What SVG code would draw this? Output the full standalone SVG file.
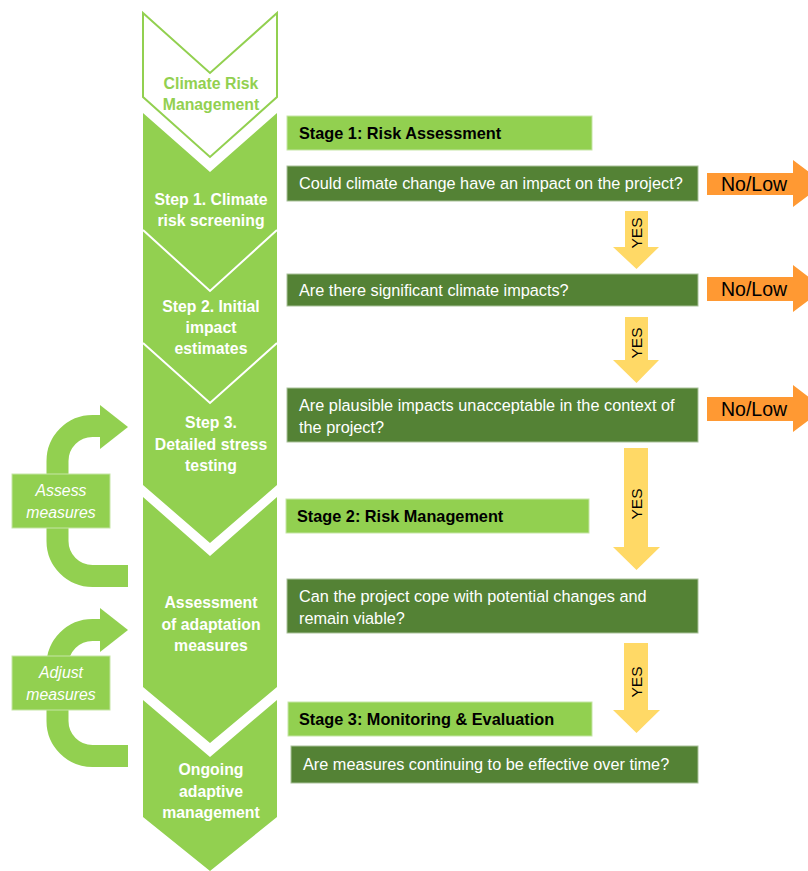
<svg xmlns="http://www.w3.org/2000/svg" width="808" height="871" viewBox="0 0 808 871">
<style>
.chev{fill:#92D050}
.sep{fill:none;stroke:#FFFFFF;stroke-width:2}
.ct{font-family:"Liberation Sans",Arial,sans-serif;font-weight:bold;font-size:15.8px;fill:#FFFFFF;text-anchor:middle}
.stage{fill:#92D050;stroke:#C5E5A5;stroke-width:1}
.q{fill:#548235;stroke:#A9C19A;stroke-width:1}
.st{font-family:"Liberation Sans",Arial,sans-serif;font-weight:bold;font-size:16.3px;fill:#000000}
.qt{font-family:"Liberation Sans",Arial,sans-serif;font-size:16.3px;fill:#FFFFFF}
.no{fill:#FF9933}
.nt{font-family:"Liberation Sans",Arial,sans-serif;font-size:19.5px;fill:#000000}
.yes{fill:#FFD966}
.yt{font-family:"Liberation Sans",Arial,sans-serif;font-size:15.5px;fill:#000000;text-anchor:middle}
.loop{fill:none;stroke:#92D050;stroke-width:22}
.lh{fill:#92D050}
.lb{fill:#92D050;stroke:#C5E5A5;stroke-width:1}
.lt{font-family:"Liberation Sans",Arial,sans-serif;font-style:italic;font-size:15.8px;fill:#FFFFFF;text-anchor:middle}
</style>

<!-- Connectors -->
<g id="connectors">
<!-- No/Low arrows -->
<polygon class="no" points="707,173 793,173 793,160 824,183.5 793,207 793,195 707,195"/>
<text class="nt" x="721" y="191">No/Low</text>
<polygon class="no" points="707,277 793,277 793,265 824,289 793,312 793,301 707,301"/>
<text class="nt" x="721" y="296">No/Low</text>
<polygon class="no" points="707,397 793,397 793,385 824,409 793,432 793,421 707,421"/>
<text class="nt" x="721" y="416">No/Low</text>

<!-- YES arrows -->
<polygon class="yes" points="625,211 648,211 648,247 659,247 636.5,269 613,247 625,247"/>
<text class="yt" transform="translate(642,233) rotate(-90)">YES</text>
<polygon class="yes" points="625,317 648,317 648,360 659,360 636.5,383 613,360 625,360"/>
<text class="yt" transform="translate(642,343) rotate(-90)">YES</text>
<polygon class="yes" points="624,448 648,448 648,547 660,547 636.5,570 613,547 624,547"/>
<text class="yt" transform="translate(642,504) rotate(-90)">YES</text>
<polygon class="yes" points="624,643 648,643 648,710 660,710 636.5,733 613,710 624,710"/>
<text class="yt" transform="translate(642,682) rotate(-90)">YES</text>

<!-- Loop arrows -->
<path class="loop" d="M128 576 L92.5 576 A35 35 0 0 1 57.5 541 L57.5 461 A35 35 0 0 1 92.5 426 L101 426"/>
<polygon class="lh" points="100,405 128,427 100,449"/>
<path class="loop" d="M128 756 L92.5 756 A35 35 0 0 1 57.5 721 L57.5 665 A35 35 0 0 1 92.5 630 L101 630"/>
<polygon class="lh" points="100,608 128,630 100,652"/>
</g>

<!-- Process chevrons -->
<g id="crm">
<polygon points="143,13 210,73 277,13 277,97 210,157 143,97" fill="#FFFFFF" stroke="#92D050" stroke-width="2"/>
<text class="ct" x="211" y="89" style="fill:#92D050">Climate Risk</text>
<text class="ct" x="211" y="110" style="fill:#92D050">Management</text>
</g>
<g id="step1">
<polygon class="chev" points="143,113 210,172 277,113 277,230 210,291 143,230"/>
<text class="ct" x="211" y="205">Step 1. Climate</text>
<text class="ct" x="211" y="226">risk screening</text>
</g>
<g id="step2">
<polygon class="chev" points="143,230 210,291 277,230 277,343 210,403 143,343"/>
<polyline class="sep" points="143,230 210,291 277,230"/>
<text class="ct" x="211" y="312">Step 2. Initial</text>
<text class="ct" x="211" y="333">impact</text>
<text class="ct" x="211" y="354">estimates</text>
</g>
<g id="step3">
<polygon class="chev" points="143,343 210,403 277,343 277,485 210,543 143,485"/>
<polyline class="sep" points="143,343 210,403 277,343"/>
<text class="ct" x="211" y="428">Step 3.</text>
<text class="ct" x="211" y="450">Detailed stress</text>
<text class="ct" x="211" y="471">testing</text>
</g>
<g id="assessment">
<polygon class="chev" points="143,497 210,556 277,497 277,687 210,743 143,687"/>
<text class="ct" x="211" y="608">Assessment</text>
<text class="ct" x="211" y="630">of adaptation</text>
<text class="ct" x="211" y="651">measures</text>
</g>
<g id="ongoing">
<polygon class="chev" points="143,700 210,757 277,700 277,817 210,871 143,817"/>
<text class="ct" x="211" y="775">Ongoing</text>
<text class="ct" x="211" y="797">adaptive</text>
<text class="ct" x="211" y="818">management</text>
</g>

<!-- Stage headers -->
<g id="stage1">
<rect class="stage" x="287" y="116" width="305" height="34"/>
<text class="st" x="299" y="139">Stage 1: Risk Assessment</text>
</g>
<g id="stage2">
<rect class="stage" x="286" y="499" width="303" height="34"/>
<text class="st" x="297" y="522">Stage 2: Risk Management</text>
</g>
<g id="stage3">
<rect class="stage" x="288" y="702" width="304" height="34"/>
<text class="st" x="299" y="725">Stage 3: Monitoring &amp; Evaluation</text>
</g>

<!-- Questions -->
<g id="q1">
<rect class="q" x="287" y="166" width="411" height="35"/>
<text class="qt" x="299" y="189">Could climate change have an impact on the project?</text>
</g>
<g id="q2">
<rect class="q" x="287" y="274" width="411" height="32"/>
<text class="qt" x="299" y="296">Are there significant climate impacts?</text>
</g>
<g id="q3">
<rect class="q" x="287" y="388" width="411" height="54"/>
<text class="qt" x="299" y="411">Are plausible impacts unacceptable in the context of</text>
<text class="qt" x="299" y="433">the project?</text>
</g>
<g id="q4">
<rect class="q" x="287" y="579" width="411" height="54"/>
<text class="qt" x="299" y="602">Can the project cope with potential changes and</text>
<text class="qt" x="299" y="624">remain viable?</text>
</g>
<g id="q5">
<rect class="q" x="291" y="746" width="407" height="37"/>
<text class="qt" x="303" y="770">Are measures continuing to be effective over time?</text>
</g>

<!-- Loop boxes -->
<g id="assess-measures">
<rect class="lb" x="12" y="474" width="98" height="54"/>
<text class="lt" x="61" y="496">Assess</text>
<text class="lt" x="61" y="518">measures</text>
</g>
<g id="adjust-measures">
<rect class="lb" x="12" y="656" width="98" height="54"/>
<text class="lt" x="61" y="678">Adjust</text>
<text class="lt" x="61" y="700">measures</text>
</g>
</svg>
